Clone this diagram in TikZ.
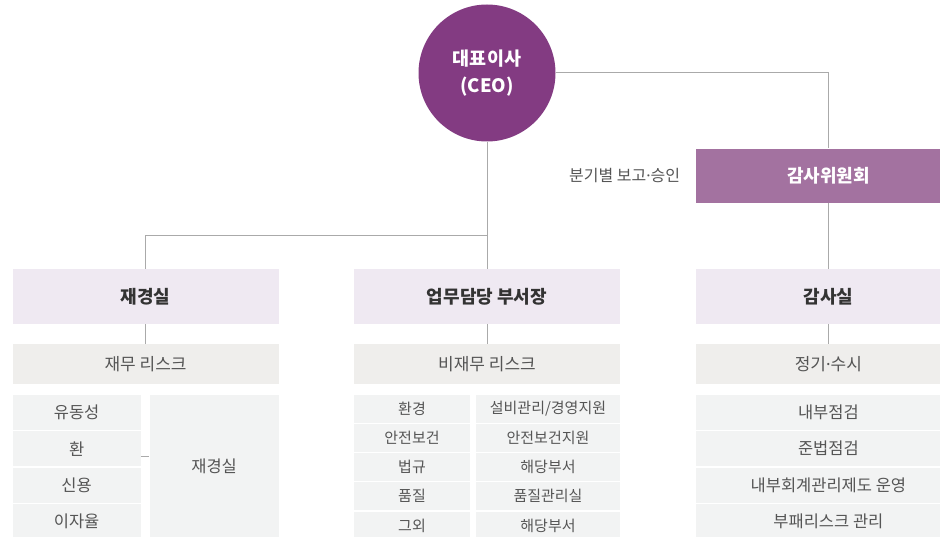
\documentclass[tikz,border=0pt]{standalone}
\usepackage{fontspec}
\setmainfont{Noto Sans CJK KR}
\newfontfamily\dotfont{Noto Sans}
\usepackage{xcolor}
\usepackage{tikz}
\usetikzlibrary{positioning}

\definecolor{ceopurple}{RGB}{131,59,130}
\definecolor{compurple}{RGB}{163,114,160}
\definecolor{lvlfill}{RGB}{239,233,242}
\definecolor{riskfill}{RGB}{239,238,236}
\definecolor{cellfill}{RGB}{242,243,243}
\definecolor{linegray}{RGB}{170,170,170}
\definecolor{textdark}{RGB}{51,51,51}
\definecolor{textmid}{RGB}{85,85,85}
\newcommand{\middot}{{\dotfont ·}}

\begin{document}
\begin{tikzpicture}[
  x=1pt,y=-1pt,
  ceonode/.style={circle,fill=ceopurple,minimum size=137pt,inner sep=0pt,
    align=center,text=white,font=\fontsize{18.5}{27}\selectfont\bfseries},
  board/.style={fill=compurple,minimum width=264pt,minimum height=54pt,
    inner sep=0pt,text=white,font=\fontsize{18}{21}\selectfont\bfseries},
  dept/.style={fill=lvlfill,minimum width=266pt,minimum height=55pt,
    inner sep=0pt,text=textdark,font=\fontsize{18}{21}\selectfont\bfseries},
  risk/.style={fill=riskfill,minimum width=266pt,minimum height=40pt,
    inner sep=0pt,text=textmid,font=\fontsize{17}{20}\selectfont},
  cell/.style={fill=cellfill,inner sep=0pt,text=textmid,
    font=\fontsize{16.5}{19}\selectfont},
  smallcell/.style={cell,minimum height=27.8pt,font=\fontsize{15}{18}\selectfont},
  note/.style={inner sep=0pt,text=textmid,font=\fontsize{16}{19}\selectfont},
  conn/.style={draw=linegray,line width=1pt}
]
  \useasboundingbox (0,0) rectangle (940,537);
  \clip (0,0) rectangle (940,537);

  % top
  \node[ceonode] (ceo) at (487,73) {대표이사\\(CEO)};
  \node[dept] (biz) at (487,296.5) {업무담당 부서장};
  \node[dept,left=75pt of biz] (fin) {재경실};
  \node[dept,right=76pt of biz,minimum width=264pt] (aud) {감사실};
  \node[board,above=66pt of aud] (board) {감사위원회};
  \node[note,left=16pt of board] (report) {분기별 보고\middot 승인};

  % risk bars
  \node[risk,below=20pt of fin] (finrisk) {재무 리스크};
  \node[risk,below=20pt of biz] (bizrisk) {비재무 리스크};
  \node[risk,below=20pt of aud,minimum width=264pt] (audrisk) {정기\middot 수시};

  % financial risk table
  \node[cell,minimum width=128pt,minimum height=35pt,
    below=10pt of finrisk.south west,anchor=north west] (fin1) {유동성};
  \node[cell,minimum width=128pt,minimum height=35pt,below=1pt of fin1] (fin2) {환};
  \node[cell,minimum width=128pt,minimum height=35pt,below=1pt of fin2] (fin3) {신용};
  \node[cell,minimum width=128pt,minimum height=35pt,below=1pt of fin3] (fin4) {이자율};
  \node[cell,minimum width=129pt,minimum height=143pt,
    below=10pt of finrisk.south east,anchor=north east] (findept) {재경실};

  % non-financial risk table
  \node[smallcell,minimum width=116pt,
    below=10pt of bizrisk.south west,anchor=north west] (biz1) {환경};
  \node[smallcell,minimum width=116pt,below=1pt of biz1] (biz2) {안전보건};
  \node[smallcell,minimum width=116pt,below=1pt of biz2] (biz3) {법규};
  \node[smallcell,minimum width=116pt,below=1pt of biz3] (biz4) {품질};
  \node[smallcell,minimum width=116pt,below=1pt of biz4] (biz5) {그외};
  \node[smallcell,minimum width=144pt,
    below=10pt of bizrisk.south east,anchor=north east] (own1) {설비관리/경영지원};
  \node[smallcell,minimum width=144pt,below=1pt of own1] (own2) {안전보건지원};
  \node[smallcell,minimum width=144pt,below=1pt of own2] (own3) {해당부서};
  \node[smallcell,minimum width=144pt,below=1pt of own3] (own4) {품질관리실};
  \node[smallcell,minimum width=144pt,below=1pt of own4] (own5) {해당부서};

  % audit table
  \node[cell,minimum width=264pt,minimum height=35pt,below=10pt of audrisk] (aud1) {내부점검};
  \node[cell,minimum width=264pt,minimum height=35pt,below=1pt of aud1] (aud2) {준법점검};
  \node[cell,minimum width=264pt,minimum height=35pt,below=1pt of aud2] (aud3) {내부회계관리제도 운영};
  \node[cell,minimum width=264pt,minimum height=35pt,below=1pt of aud3] (aud4) {부패리스크 관리};

  % connectors
  \coordinate (split) at (487,236);
  \draw[conn] (ceo) -- (biz);
  \draw[conn] (split) -| (fin.north);
  \draw[conn] (ceo) -| (board.north);
  \draw[conn] (board) -- (aud);
  \draw[conn] (fin) -- (finrisk);
  \draw[conn] (biz) -- (bizrisk);
  \draw[conn] (aud) -- (audrisk);
  \draw[conn] ([yshift=10pt]fin2.south east) -- ([yshift=10pt]fin2.south east -| findept.west);
\end{tikzpicture}
\end{document}
